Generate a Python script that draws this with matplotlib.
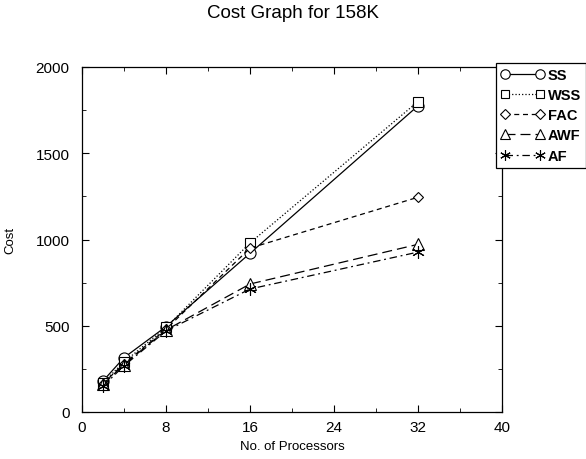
import numpy as np
import matplotlib
matplotlib.use("Agg")
import matplotlib.pyplot as plt
from matplotlib.ticker import MultipleLocator

# processors on the x axis
processors = [2, 4, 8, 16, 32]

# cost per scheme
cost_ss = [180, 315, 495, 920, 1775]
cost_wss = [170, 290, 490, 980, 1800]
cost_fac = [165, 280, 480, 950, 1245]
cost_awf = [160, 275, 475, 742, 972]
cost_af = [150, 268, 470, 713, 927]

series_names = ["SS", "WSS", "FAC", "AWF", "AF"]


def graph_cost():
    plt.rcParams['font.family'] = ['Liberation Sans', 'DejaVu Sans']

    fig = plt.figure(figsize=(5.86, 4.6), dpi=100)
    ax = fig.add_axes([82 / 586, 1 - 413 / 460, 420 / 586, 345 / 460])

    styles = [
        ('-', 'o', 8),
        (':', 's', 7),
        ((0, (4, 3)), 'D', 5.5),
        ((0, (8, 4)), '^', 8),
        ((0, (6, 3, 1.5, 3)), (6, 2, 0), 9),
    ]
    all_costs = [cost_ss, cost_wss, cost_fac, cost_awf, cost_af]

    for name, costs, (ls, mk, ms) in zip(series_names, all_costs, styles):
        ax.plot(processors, costs, color='black', linestyle=ls, linewidth=0.9,
                marker=mk, markersize=ms, markerfacecolor='white',
                markeredgecolor='black', markeredgewidth=0.8, label=name)

    ax.set_xlim(0, 40)
    ax.set_ylim(0, 2000)
    ax.xaxis.set_major_locator(MultipleLocator(8))
    ax.xaxis.set_minor_locator(MultipleLocator(4))
    ax.yaxis.set_major_locator(MultipleLocator(500))
    ax.yaxis.set_minor_locator(MultipleLocator(250))
    ax.tick_params(which='both', direction='in', top=True, right=True,
                   labelsize=11)
    ax.tick_params(axis='y', which='major', length=5, pad=9)
    ax.tick_params(axis='x', which='major', length=5, pad=6)
    ax.tick_params(which='minor', length=3)
    for spine in ax.spines.values():
        spine.set_linewidth(0.9)

    ax.set_xlabel("No. of Processors", fontsize=9.5, labelpad=4)
    ax.set_ylabel("Cost", fontsize=9.5, labelpad=14)
    fig.suptitle("Cost Graph for 158K", fontsize=13.5, y=0.99)

    leg = fig.legend(loc='upper left', bbox_to_anchor=(496 / 586, 1 - 64 / 460),
                     numpoints=2, markerscale=0.85, handlelength=3.0,
                     handletextpad=0.2, borderpad=0.35, labelspacing=0.42,
                     borderaxespad=0, fancybox=False, edgecolor='black',
                     framealpha=1, prop={'weight': 'bold', 'size': 10.5})
    leg.get_frame().set_linewidth(0.9)

    fig.savefig("out.png", dpi=100)


if __name__ == "__main__":
    graph_cost()
